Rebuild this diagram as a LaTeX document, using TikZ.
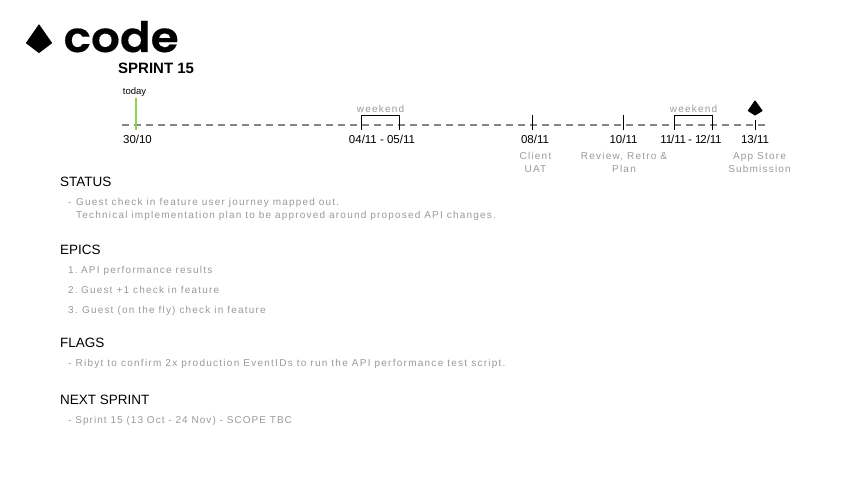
\documentclass[tikz,border=0pt]{standalone}
\usepackage{fontspec}
\setmainfont{Liberation Sans}
\newfontfamily\greyfont[LetterSpace=12]{Liberation Sans}
\newfontfamily\greyfontwide[LetterSpace=12.6]{Liberation Sans}
\newfontfamily\greyfontnarrow[LetterSpace=10.5]{Liberation Sans}
\newfontfamily\codefont[FakeBold=0.4]{Poppins SemiBold}
\definecolor{greytext}{HTML}{9A9A9A}
\definecolor{dashgrey}{HTML}{858585}
\definecolor{todaygreen}{HTML}{8FD14F}
\newcommand{\tightone}{1\kern-1.1pt{}}
\tikzset{
  lab/.style={inner sep=0pt,anchor=base,font=\fontsize{11.5}{13}\selectfont,text=black},
  head/.style={inner sep=0pt,anchor=base west,font=\fontsize{13.5}{16}\selectfont,text=black},
  note/.style={inner sep=0pt,anchor=base,align=center,font=\greyfont\fontsize{10}{13}\selectfont,text=greytext},
  body/.style={inner sep=0pt,anchor=base west,font=\greyfont\fontsize{10}{13}\selectfont,text=greytext},
  tickline/.style={draw=black,line width=1pt},
  axisline/.style={draw=dashgrey,line width=1.9pt,dash pattern=on 7.5pt off 4.5pt},
  gem/.style={fill=black,draw=black,line join=round,line width=1pt}
}
\begin{document}
\begin{tikzpicture}[x=1pt,y=-1pt]
\useasboundingbox (0,0) rectangle (858,489);
\fill[white] (0,0) rectangle (858,489);
% logo
\draw[gem] (39,25) -- (26.5,43) -- (39,52.5) -- (51.5,43) -- cycle;
\node[inner sep=0pt,anchor=base west,font=\codefont\fontsize{42}{44}\selectfont] (code) at (63.5,52) {\scalebox{1.08}[1]{code}};
\node[inner sep=0pt,anchor=base west,font=\bfseries\fontsize{15}{16}\selectfont] (sprint) at (118,73.5) {SPRINT 15};
% axis
\coordinate (axisL) at (121.5,125);
\coordinate (axisR) at (765,125);
\draw[axisline] (axisL) -- (axisR);
\coordinate (todayT) at (135.5,98);
\coordinate (todayB) at (135.5,130);
\draw[draw=todaygreen,line width=2pt] (todayT) -- (todayB);
\node[lab,font=\fontsize{9.5}{11}\selectfont] (today) at (134.5,95) {today};
% weekend brackets
\draw[tickline] (361.3,130) -- (361.3,115.3) -- (399.3,115.3) -- (399.3,130);
\draw[tickline] (674.3,130) -- (674.3,115.3) -- (712.3,115.3) -- (712.3,130);
\draw[tickline] (532.3,115) -- (532.3,130);
\draw[tickline] (623.3,115) -- (623.3,130);
\draw[tickline] (755.3,120) -- (755.3,130);
\draw[gem] (755,101) -- (748.3,110.7) -- (755,115) -- (762,110.7) -- cycle;
\node[note] (wk1) at (380.5,112.5) {weekend};
\node[note] (wk2) at (693.5,112.5) {weekend};
% dates
\node[lab] (d1) at (137.5,144) {30/10};
\node[lab] (d2) at (382,144) {04/11 - 05/11};
\node[lab] (d3) at (535,144) {08/11};
\node[lab] (d4) at (623.5,144) {10/11};
\node[lab] (d5) at (690.5,144) {\tightone\tightone/\tightone\tightone{} - \tightone 2/\tightone\tightone};
\node[lab] (d6) at (755,144) {13/11};
% notes
\node[note] (n1a) at (535.5,159.5) {Client};
\node[note] (n1b) at (535.5,172.5) {UAT};
\node[note] (n2a) at (624,159.5) {Review, Retro \&};
\node[note] (n2b) at (624,172.5) {Plan};
\node[note] (n3a) at (759.5,159.5) {App Store};
\node[note] (n3b) at (759.5,172.5) {Submission};
% sections
\node[head] (status) at (60,186) {STATUS};
\node[body] (s0) at (68,205) {-};
\node[body] (s1) at (76,205) {Guest check in feature user journey mapped out.};
\node[body] (s2) at (76,218) {Technical implementation plan to be approved around proposed API changes.};
\node[head] (epics) at (60,254) {EPICS};
\node[body] (e1) at (68,273) {1.\kern-2pt{} API performance results};
\node[body] (e2) at (68,293) {2.\kern-2pt{} Guest +1 check in feature};
\node[body] (e3) at (68,313) {3.\kern-1pt{} Guest (on the fly) check in feature};
\node[head] (flags) at (60,347) {FLAGS};
\node[body,font=\greyfontwide\fontsize{10}{13}\selectfont] (f1) at (68,366) {- Ribyt to confirm 2x production EventIDs to run the API performance test script.};
\node[head] (next) at (60,404) {NEXT SPRINT};
\node[body,font=\greyfontnarrow\fontsize{10}{13}\selectfont] (n1) at (68,423) {- Sprint 15 (13 Oct - 24 Nov) - SCOPE TBC};
\end{tikzpicture}
\end{document}
